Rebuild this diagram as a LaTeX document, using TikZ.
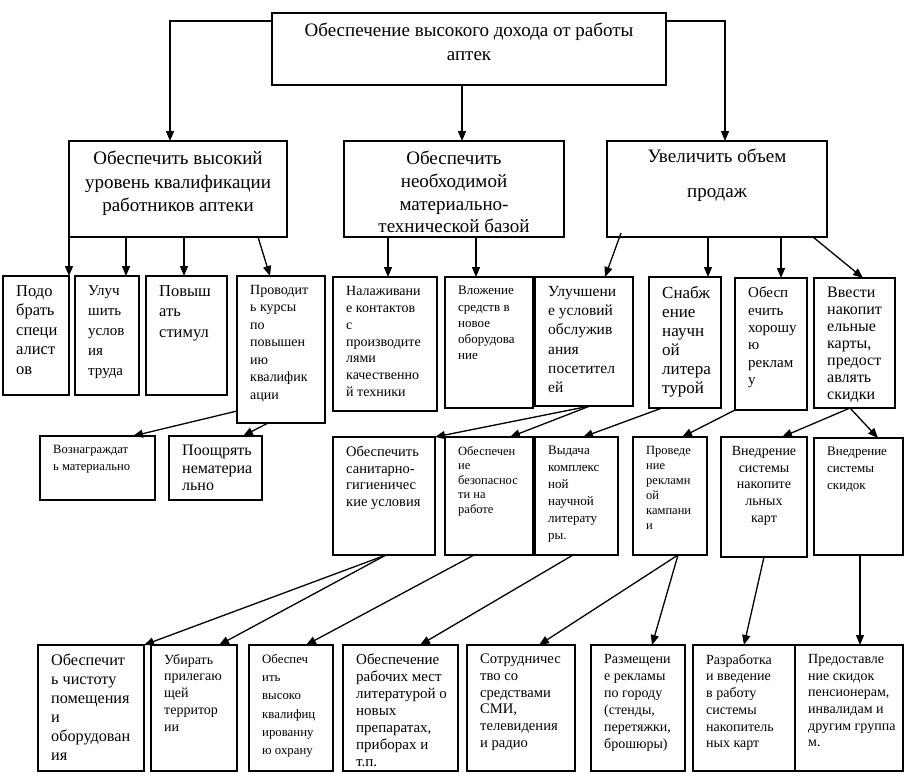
\documentclass[tikz,border=0pt]{standalone}
\usepackage{fontspec}
\setmainfont{Liberation Serif}
\usetikzlibrary{arrows.meta,calc}
\tikzset{
  box/.style={draw, line width=1.5pt, inner sep=0pt, outer sep=0pt},
  txt/.style={anchor=north west, align=left, inner sep=0pt, font=\fontsize{14}{17}\selectfont},
  fs/.style n args={2}{font=\fontsize{#1}{#2}\selectfont},
  big/.style={anchor=north, align=center, inner sep=0pt, font=\fontsize{19}{23.5}\selectfont},
  arr/.style={-{Triangle[length=10pt,width=8pt]}, line width=1.3pt},
}
\newcommand\bx[7][]{%
  \node[box, minimum width={(#5-#3)*1pt}, minimum height={(#6-#4)*1pt}] (#2) at ({(#3+#5)/2},{(#4+#6)/2}) {};
  \node[txt, #1] (#2t) at ([shift={(13pt,-9pt)}]#2.north west) {#7};}
\newcommand\bb[5]{%
  \node[box, minimum width={(#4-#2)*1pt}, minimum height={(#5-#3)*1pt}] (#1) at ({(#2+#4)/2},{(#3+#5)/2}) {};}
\begin{document}
\begin{tikzpicture}[x=1pt,y=-1pt]
\fill[white] (0,0) rectangle (912,780);
\useasboundingbox (0,0) rectangle (912,780);
% top
\bb{T}{272}{13}{666}{85}
\node[big] (Tt) at ([yshift=-10pt]T.north) {Обеспечение высокого дохода от работы\\аптек};
% level 2
\bb{L1}{69}{141}{287}{237}
\node[big] (L1t) at ([yshift=-10pt]L1.north) {Обеспечить высокий\\уровень квалификации\\работников аптеки};
\bb{L2}{344}{141}{564}{237}
\node[big, font=\fontsize{19}{22.7}\selectfont] (L2t) at ([yshift=-10pt]L2.north) {Обеспечить\\необходимой\\материально-\\технической базой};
\bb{L3}{607}{141}{827}{237}
\node[big] (L3t) at ([yshift=-8pt]L3.north) {Увеличить объем\\[11pt]продаж};
% level 3, row 1
\bx[fs={16.5}{19.6}]{a}{3}{276}{69}{395}{Подо\\брать\\специ\\алист\\ов}
\bx[fs={15}{20}]{b}{75}{276}{139}{395}{Улуч\\шить\\услов\\ия\\труда}
\bx[fs={16.5}{20.5}]{c}{146}{276}{227}{395}{Повыш\\ать\\стимул}
\bx[fs={14}{17.5}]{d}{237}{276}{325}{423}{Проводит\\ь курсы\\по\\повышен\\ию\\квалифик\\ации}
\bx[fs={12.6}{16.7}]{e}{40}{436}{155}{500}{Вознаграждат\\ь материально}
\bx[fs={16}{17.5}]{f}{169}{436}{262}{500}{Поощрять\\нематериа\\льно}
\bx[fs={14}{16.9}]{g}{333}{277}{437}{411}{Налаживани\\е контактов\\с\\производите\\лями\\качественно\\й техники}
\bx[fs={13}{16.3}]{h}{445}{277}{533}{408}{Вложение\\средств в\\новое\\оборудова\\ние}
\bx[fs={15.5}{19.3}]{i}{535}{277}{633}{406}{Улучшени\\е условий\\обслужив\\ания\\посетител\\ей}
\bx[fs={17}{19}]{j}{649}{277}{721}{408}{Снабж\\ение\\научн\\ой\\литера\\турой}
\bx[fs={15}{17.3}]{k}{735}{278}{807}{410}{Обесп\\ечить\\хорошу\\ю\\реклам\\у}
\bx[fs={16}{16.9}]{l}{814}{278}{895}{408}{Ввести\\накопит\\ельные\\карты,\\предост\\авлять\\скидки}
% middle row
\bx[fs={14.5}{16.7}]{m}{333}{437}{435}{555}{Обеспечить\\санитарно-\\гигиеничес\\кие условия}
\bx[fs={12.5}{14.5}]{n}{445}{437}{533}{555}{Обеспечен\\ие\\безопаснос\\ти на\\работе}
\bx[fs={13}{17}]{o}{535}{437}{618}{555}{Выдача\\комплекс\\ной\\научной\\литерату\\ры.}
\bx[fs={12.5}{15}]{p}{633}{437}{707}{555}{Проведе\\ние\\рекламн\\ой\\кампани\\и}
\bb{q}{721}{437}{807}{557}
\node[txt, anchor=north, align=center, fs={14}{16.7}] (qt) at ([yshift=-9pt]q.north) {Внедрение\\системы\\накопите\\льных\\карт};
\bx[fs={13}{16.7}]{r}{814}{438}{903}{555}{Внедрение\\системы\\скидок}
% bottom row
\bx[fs={16.2}{19}]{s}{38}{645}{144}{771}{Обеспечит\\ь чистоту\\помещения\\и\\оборудован\\ия}
\bx[fs={14}{16.7}]{t}{151}{645}{237}{771}{Убирать\\прилегаю\\щей\\территор\\ии}
\bx[fs={12.8}{18.3}]{u}{249}{645}{333}{771}{Обеспеч\\ить\\высоко\\квалифиц\\ированну\\ю охрану}
\bx[fs={15}{16.9}]{v}{343}{645}{458}{771}{Обеспечение\\рабочих мест\\литературой о\\новых\\препаратах,\\приборах и\\т.п.}
\bx[fs={14.6}{16.7}]{w}{467}{645}{575}{771}{Сотрудничес\\тво со\\средствами\\СМИ,\\телевидения\\и радио}
\bx[fs={14}{17}]{x}{591}{645}{685}{771}{Размещени\\е рекламы\\по городу\\(стенды,\\перетяжки,\\брошюры)}
\bx[fs={14}{16.7}]{y}{693}{645}{795}{771}{Разработка\\и введение\\в работу\\системы\\накопитель\\ных карт}
\bx[fs={14}{16.7}]{z}{795}{645}{903}{771}{Предоставле\\ние скидок\\пенсионерам,\\инвалидам и\\другим группа\\м.}
% connectors: top
\draw[arr] ([yshift=-8pt]T.north west) -| ([xshift=101pt]L1.north west);
\draw[arr] ([yshift=-8pt]T.north east) -| ([xshift=118pt]L3.north west);
\draw[arr] ([xshift=190pt]T.south west) -- ([xshift=190pt]T.south west |- L2.north);
% level 2 -> row 1
\draw[arr] (L1.south west) -- (a.north east);
\draw[arr] ([xshift=57pt]L1.south west) -- ([xshift=51pt]b.north west);
\draw[arr] ([xshift=115pt]L1.south west) -- ([xshift=38pt]c.north west);
\draw[arr] ([xshift=189pt]L1.south west) -- ([xshift=33pt]d.north west);
\draw[arr] ([xshift=44pt]L2.south west) -- ([xshift=55pt]g.north west);
\draw[arr] ([xshift=132pt]L2.south west) -- ([xshift=31pt]h.north west);
\draw[arr] ([xshift=14pt,yshift=4pt]L3.south west) -- ([xshift=70pt]i.north west);
\draw[arr] ([xshift=101pt]L3.south west) -- ([xshift=59pt]j.north west);
\draw[arr] ([xshift=174pt]L3.south west) -- ([xshift=46pt]k.north west);
\draw[arr] ([xshift=206pt]L3.south west) -- ([xshift=49pt]l.north west);
% row 1 -> middle
\draw[arr] ([yshift=12pt]d.south west) -- ([xshift=93pt]e.north west);
\draw[arr] ([xshift=31pt]d.south west) -- ([xshift=74pt]f.north west);
\draw[arr] ([xshift=55pt]i.south west) -- (m.north east);
\draw[arr] ([xshift=55pt]i.south west) -- ([xshift=65pt]n.north west);
\draw[arr] ([xshift=13pt]j.south west) -- ([xshift=48pt]o.north west);
\draw[arr] (k.south west) -- ([xshift=49pt]p.north west);
\draw[arr] ([xshift=36pt]l.south west) -- ([xshift=61pt]q.north west);
\draw[arr] ([xshift=36pt]l.south west) -- ([xshift=64pt]r.north west);
% middle -> bottom
\draw[arr] ([xshift=53pt]m.south west) -- (s.north east);
\draw[arr] ([xshift=53pt]m.south west) -- ([xshift=68pt]t.north west);
\draw[arr] ([xshift=29pt]n.south west) -- ([xshift=57pt]u.north west);
\draw[arr] ([xshift=38pt]o.south west) -- ([xshift=77pt]v.north west);
\draw[arr] ([xshift=45pt]p.south west) -- ([xshift=72pt]w.north west);
\draw[arr] ([xshift=45pt]p.south west) -- ([xshift=61pt]x.north west);
\draw[arr] ([xshift=43pt]q.south west) -- ([xshift=51pt]y.north west);
\draw[arr] ([xshift=46pt]r.south west) -- ([xshift=65pt]z.north west);
\end{tikzpicture}
\end{document}
